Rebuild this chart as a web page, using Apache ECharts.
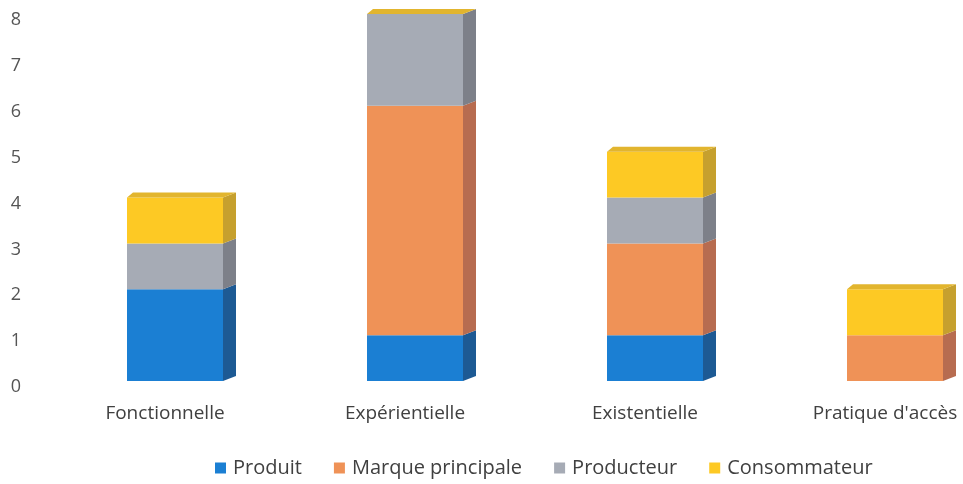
<!DOCTYPE html>
<html lang="fr">
<head>
    <meta charset="UTF-8">
    <title>Dimensions</title>
    <script src="https://cdn.jsdelivr.net/npm/echarts@6/dist/echarts.min.js"></script>
    <style>
        html, body { margin: 0; padding: 0; background: #fff; }
        #main { width: 963px; height: 484px; }
    </style>
</head>
<body>
<div id="main"></div>
<script type="text/javascript">
    // données
    var categories = ['Fonctionnelle', 'Expérientielle', 'Existentielle', "Pratique d'accès"];
    var seriesNames = ['Produit', 'Marque principale', 'Producteur', 'Consommateur'];
    var produit = [2, 1, 1, 0];
    var marque = [0, 5, 2, 1];
    var producteur = [1, 2, 1, 0];
    var consommateur = [1, 0, 1, 1];
    var yTicks = [0, 1, 2, 3, 4, 5, 6, 7, 8];

    var values = [produit, marque, producteur, consommateur];
    var frontColors = ['#1b7fd3', '#ef9257', '#a6abb5', '#fdc924'];
    var sideColors = ['#1d5a94', '#b76c50', '#7d8089', '#c6a02e'];
    var topColors = ['#1f6cb2', '#d88150', '#9196a0', '#e2b52e'];

    // empilement
    var cumul = [0, 0, 0, 0];
    var stacked = values.map(function (vals) {
        return vals.map(function (v, i) {
            var base = cumul[i];
            cumul[i] += v;
            return [i, base, base + v];
        });
    });

    var DX = 13, DY = 5;

    function makeRender(s) {
        var last = s === values.length - 1;
        return function (params, api) {
            var cat = api.value(0);
            var b = api.coord([cat, api.value(1)]);
            var t = api.coord([cat, api.value(2)]);
            var x0 = b[0] - 38, x1 = b[0] + 58;
            var yb = b[1] - 6, yt = t[1] - 6;
            var children = [];
            if (yb - yt > 0.5) {
                children.push({
                    type: 'rect',
                    shape: { x: x0, y: yt, width: x1 - x0, height: yb - yt },
                    style: { fill: frontColors[s] }
                });
                children.push({
                    type: 'polygon',
                    shape: { points: [[x1, yb], [x1 + DX, yb - DY], [x1 + DX, yt - DY], [x1, yt]] },
                    style: { fill: sideColors[s] }
                });
            }
            if (last) {
                children.push({
                    type: 'polygon',
                    shape: { points: [[x0, yt], [x0 + 6, yt - DY], [x1 + DX, yt - DY], [x1, yt]] },
                    style: { fill: topColors[s] }
                });
            }
            return { type: 'group', children: children };
        };
    }

    var series = seriesNames.map(function (name, s) {
        return {
            name: name,
            type: 'custom',
            renderItem: makeRender(s),
            itemStyle: { color: frontColors[s] },
            encode: { x: 0, y: [1, 2] },
            data: stacked[s]
        };
    });

    var myChart = echarts.init(document.getElementById('main'));
    var option = {
        animation: false,
        grid: { left: 45, width: 960, top: 20, bottom: 97, outerBoundsMode: 'none' },
        legend: {
            left: 210,
            bottom: 1,
            icon: 'rect',
            itemWidth: 11,
            itemHeight: 11,
            itemGap: 32,
            textStyle: { fontFamily: 'Open Sans', fontSize: 20, color: '#404040', padding: [0, 0, 0, 2] },
            data: seriesNames
        },
        xAxis: {
            type: 'category',
            data: categories,
            axisLine: { show: false },
            axisTick: { show: false },
            axisLabel: { margin: 17, fontFamily: 'Open Sans', fontSize: 19, color: '#404040' }
        },
        yAxis: {
            type: 'value',
            min: yTicks[0],
            max: yTicks[yTicks.length - 1],
            interval: 1,
            splitLine: { show: false },
            axisLine: { show: false },
            axisTick: { show: false },
            axisLabel: { margin: 24, fontFamily: 'Open Sans', fontSize: 18, color: '#555555' }
        },
        series: series
    };
    myChart.setOption(option);
</script>
</body>
</html>
